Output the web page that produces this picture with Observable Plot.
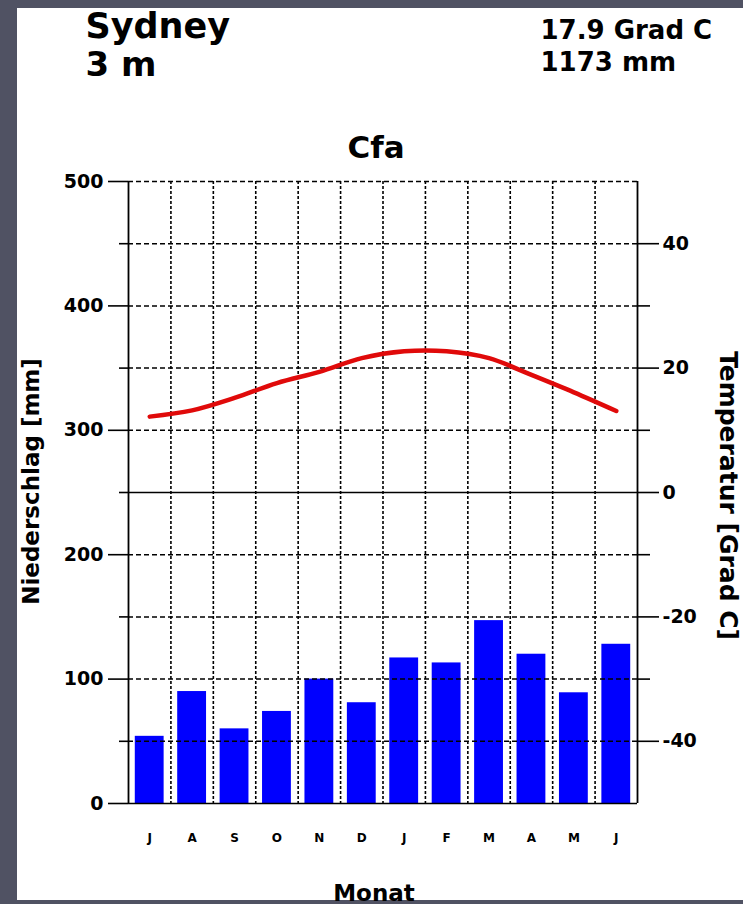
<!DOCTYPE html>
<html><head><meta charset="utf-8">
<script src="https://cdn.jsdelivr.net/npm/d3@7"></script>
<script src="https://cdn.jsdelivr.net/npm/@observablehq/plot@0.6"></script>
<style>
html,body{margin:0;padding:0;background:#505263;width:743px;height:904px;overflow:hidden}
#panel{position:absolute;left:17px;top:8px;width:726px;height:892px;background:#fff}
#chart{position:absolute;left:0;top:0}
</style></head>
<body><div id="panel"></div><div id="chart"></div>
<script>
// ---- data ----
const station = "Sydney";
const elevation = "3 m";
const meanTemp = "17.9 Grad C";
const totalPrecip = "1173 mm";
const climateClass = "Cfa";
const months = ["Jul","Aug","Sep","Okt","Nov","Dez","Jan","Feb","Mär","Apr","Mai","Jun"];
const monthLabels = ["J","A","S","O","N","D","J","F","M","A","M","J"];
const precip = [54, 90, 60, 74, 100, 81, 117, 113, 147, 120, 89, 128];
const temp = [12.2, 13.2, 15.2, 17.6, 19.4, 21.6, 22.7, 22.7, 21.6, 18.9, 16.1, 13.1];
const precipTicks = [0, 100, 200, 300, 400, 500];
const precipMinorTicks = [50, 150, 250, 350, 450];
const tempTicks = [-40, -20, 0, 20, 40];
const tempMinorTicks = [-30, -10, 10, 30];
const dashedGrid = [50, 100, 150, 200, 300, 350, 400, 450, 500];
const solidGrid = [0, 250];

// temperature axis is tied to precipitation axis: 0 °C at 250 mm, 10 °C = 50 mm
const t2mm = t => 250 + 5 * t;
const mm2t = v => (v - 250) / 5;

const data = months.map((m, i) => ({month: m, label: monthLabels[i], precip: precip[i], temp: temp[i]}));

const W = 743, H = 904, mL = 128, mR = 106, mT = 181, mB = 101;
const stepPx = (W - mL - mR) / months.length;
const font = "'DejaVu Sans', sans-serif";

const chart = Plot.plot({
  width: W, height: H,
  marginLeft: mL, marginRight: mR, marginTop: mT, marginBottom: mB,
  style: {background: "transparent", fontFamily: font, fontWeight: "bold", color: "#000"},
  x: {domain: months, paddingInner: 0.32, paddingOuter: 0.16, round: false, axis: null},
  y: {domain: [0, 500], axis: null},
  marks: [
    // vertical dotted month separators
    Plot.ruleX(months.slice(0, -1), {x: d => d, dx: stepPx / 2, stroke: "#000", strokeWidth: 1.6, strokeDasharray: "3,2"}),
    // precipitation bars
    Plot.barY(data, {x: "month", y: "precip", fill: "#0000ff"}),
    // horizontal dashed grid
    Plot.ruleY(dashedGrid, {stroke: "#000", strokeWidth: 1.5, strokeDasharray: "5,3"}),
    Plot.ruleY(solidGrid, {stroke: "#000", strokeWidth: 1.6}),
    // side axis lines
    Plot.ruleX([months[0]], {x: d => d, dx: -stepPx / 2, stroke: "#000", strokeWidth: 1.8}),
    Plot.ruleX([months[months.length - 1]], {x: d => d, dx: stepPx / 2, stroke: "#000", strokeWidth: 1.8}),
    // left axis (mm)
    Plot.axisY(precipTicks, {anchor: "left", tickSize: 20, tickPadding: 5, fontSize: 19, strokeWidth: 1.6, label: null}),
    Plot.axisY(precipMinorTicks, {anchor: "left", tickSize: 9, strokeWidth: 1.6, tickFormat: () => "", label: null}),
    // right axis (°C)
    Plot.axisY(tempTicks.map(t2mm), {anchor: "right", tickSize: 21, tickPadding: 4, fontSize: 19, strokeWidth: 1.6, tickFormat: v => String(mm2t(v)), label: null}),
    Plot.axisY(tempMinorTicks.map(t2mm), {anchor: "right", tickSize: 12, strokeWidth: 1.6, tickFormat: () => "", label: null}),
    // month letters
    Plot.axisX(months, {anchor: "bottom", tickSize: 0, tickPadding: 30, fontSize: 12, tickFormat: d => monthLabels[months.indexOf(d)], label: null}),
    // temperature line
    Plot.line(data, {x: "month", y: d => t2mm(d.temp), stroke: "#e00a0a", strokeWidth: 4.5, curve: "catmull-rom"}),
    // texts
    Plot.text([station], {text: d => d, frameAnchor: "top-left", dx: -43, dy: -144, textAnchor: "start", lineAnchor: "bottom", fontSize: 35}),
    Plot.text([elevation], {text: d => d, frameAnchor: "top-left", dx: -43, dy: -106, textAnchor: "start", lineAnchor: "bottom", fontSize: 34}),
    Plot.text([meanTemp], {text: d => d, frameAnchor: "top-right", dx: -97, dy: -143, textAnchor: "start", lineAnchor: "bottom", fontSize: 26}),
    Plot.text([totalPrecip], {text: d => d, frameAnchor: "top-right", dx: -97, dy: -111, textAnchor: "start", lineAnchor: "bottom", fontSize: 26}),
    Plot.text([climateClass], {text: d => d, frameAnchor: "top", dx: -7, dy: -24, textAnchor: "middle", lineAnchor: "bottom", fontSize: 31}),
    Plot.text(["Monat"], {text: d => d, frameAnchor: "bottom", dx: -9, dy: 97, textAnchor: "middle", lineAnchor: "bottom", fontSize: 23}),
    Plot.text(["Niederschlag [mm]"], {text: d => d, frameAnchor: "left", dx: -97, dy: -11, rotate: -90, textAnchor: "middle", lineAnchor: "middle", fontSize: 23}),
    Plot.text(["Temperatur [Grad C]"], {text: d => d, frameAnchor: "right", dx: 90, dy: 3, rotate: 90, textAnchor: "middle", lineAnchor: "middle", fontSize: 25})
  ]
});
document.getElementById("chart").appendChild(chart);
</script>
</body></html>
